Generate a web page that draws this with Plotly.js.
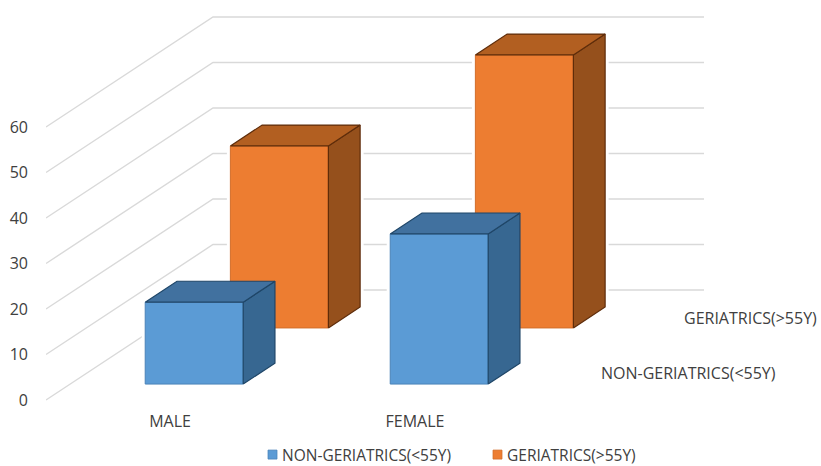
<!DOCTYPE html>
<html>
<head>
<meta charset="utf-8">
<script src="https://cdn.plot.ly/plotly-3.0.1.min.js"></script>
<style>html,body{margin:0;padding:0;background:#fff}</style>
</head>
<body>
<div id="chart" style="width:821px;height:466px"></div>
<script>
// Chart data
const categories = ['MALE', 'FEMALE'];
const seriesNames = ['NON-GERIATRICS(<55Y)', 'GERIATRICS(>55Y)'];
const nonGeriatrics = [18, 33];
const geriatrics = [40, 60];
const yTicks = [0, 10, 20, 30, 40, 50, 60];

// Drawing scale and oblique projection
const W = 821, H = 466;
const plotLeft = 46, plotBottom = 410;
const xZeroPx = 170, pxPerCat = 245;
const yZeroPx = 400, pxPerUnit = 4.55;
const depthX = 167 / pxPerCat, depthY = 110 / pxPerUnit;
const barWidth = 0.4, barDepth = 0.19;
const seriesFront = [0.145, 0.655];
const gridLeft = (plotLeft - xZeroPx) / pxPerCat;
const gridRight = (704 - xZeroPx) / pxPerCat;

const styles = [
  {front: '#5b9bd5', edge: '#4a83b8', side: '#376791', top: '#41719f', dark: '#1f4668'},
  {front: '#ed7d31', edge: '#d26e2a', side: '#95501c', top: '#b25f21', dark: '#5e2c0a'}
];
const allValues = [nonGeriatrics, geriatrics];

const project = (c, v, z) => [c + z * depthX, v + z * depthY];
const polygon = pts => {
  const xy = pts.map(p => project(p[0], p[1], p[2]));
  return {x: xy.map(p => p[0]).concat(xy[0][0]), y: xy.map(p => p[1]).concat(xy[0][1])};
};
const svgPath = pts => 'M' + pts.map(p => project(p[0], p[1], p[2]).join(',')).join('L') + 'Z';

const traces = [];
const shapes = [];

// Back wall and floor-side gridlines
yTicks.forEach(t => {
  const a = project(gridLeft, t, 0), b = project(gridLeft, t, 1), c = [gridRight, t + depthY];
  shapes.push({
    type: 'path', layer: 'below', xref: 'x', yref: 'y',
    path: 'M' + a.join(',') + 'L' + b.join(',') + 'L' + c.join(','),
    line: {color: '#d9d9d9', width: 1.4}, fillcolor: 'rgba(0,0,0,0)'
  });
});

// Series are added back to front so the nearer columns overlap the farther ones
[1, 0].forEach(s => {
  const z0 = seriesFront[s], z1 = z0 + barDepth, st = styles[s], vals = allValues[s];
  traces.push({
    type: 'bar', name: seriesNames[s], legendrank: s + 1,
    x: categories.map((_, i) => i + z0 * depthX),
    y: vals, base: vals.map(() => z0 * depthY), width: barWidth,
    marker: {color: st.front, line: {color: st.edge, width: 1}},
    hoverinfo: 'name+text', text: vals.map(String), textposition: 'none'
  });
  vals.forEach((v, i) => {
    const l = i - barWidth / 2, r = i + barWidth / 2;
    // White halo that interrupts the gridlines around each column
    shapes.push({
      type: 'path', layer: 'below', xref: 'x', yref: 'y',
      path: svgPath([[l, 0, z0], [r, 0, z0], [r, 0, z1], [r, v, z1], [l, v, z1], [l, v, z0]]),
      fillcolor: '#ffffff', line: {color: '#ffffff', width: 7}
    });
    const side = polygon([[r, 0, z0], [r, 0, z1], [r, v, z1], [r, v, z0]]);
    const top = polygon([[l, v, z0], [r, v, z0], [r, v, z1], [l, v, z1]]);
    [[side, st.side], [top, st.top]].forEach(([p, color]) => {
      traces.push({
        type: 'scatter', mode: 'lines', x: p.x, y: p.y, fill: 'toself',
        fillcolor: color, line: {color: st.dark, width: 1.2},
        showlegend: false, hoverinfo: 'skip'
      });
    });
  });
});

const textColor = '#404040';
const fontFamily = '"Open Sans", sans-serif';

// Depth-axis labels sit just past the right end of the floor
const annotations = seriesNames.map((name, s) => ({
  x: gridRight - depthX + (s === 0 ? 0.25 : 0.75) * depthX,
  y: (s === 0 ? 0.25 : 0.75) * depthY,
  xref: 'x', yref: 'y', text: name.replace('<', '&lt;'), showarrow: false,
  xanchor: 'left', yanchor: 'middle', xshift: 20,
  font: {family: fontFamily, size: 16, color: textColor}
}));

const layout = {
  width: W, height: H,
  margin: {l: plotLeft, r: 0, t: 0, b: H - plotBottom, pad: 0, autoexpand: false},
  paper_bgcolor: '#ffffff', plot_bgcolor: '#ffffff',
  barmode: 'overlay', shapes, annotations,
  xaxis: {
    type: 'linear',
    range: [(plotLeft - xZeroPx) / pxPerCat, (W - xZeroPx) / pxPerCat],
    tickmode: 'array', tickvals: categories.map((_, i) => i), ticktext: categories,
    showgrid: false, zeroline: false, showline: false, ticks: '',
    tickfont: {family: fontFamily, size: 16, color: textColor}, fixedrange: true
  },
  yaxis: {
    range: [(yZeroPx - plotBottom) / pxPerUnit, yZeroPx / pxPerUnit],
    tickmode: 'array', tickvals: yTicks,
    showgrid: false, zeroline: false, showline: false, ticks: '',
    ticklabelstandoff: 17,
    tickfont: {family: fontFamily, size: 16, color: textColor}, fixedrange: true
  },
  showlegend: true,
  legend: {
    orientation: 'h', x: (242 - plotLeft) / (W - plotLeft), xanchor: 'left',
    y: -45 / plotBottom, yanchor: 'middle',
    entrywidth: 180, entrywidthmode: 'pixels',
    font: {family: fontFamily, size: 15.5, color: textColor},
    bgcolor: 'rgba(0,0,0,0)', traceorder: 'normal'
  }
};

// Legend swatches are small squares placed close to their text
const tightenSwatches = () => {
  document.querySelectorAll('#chart .legend .legendpoints path').forEach(p => {
    p.setAttribute('transform', 'translate(30.5,0) scale(0.75)');
  });
};

Plotly.newPlot('chart', traces, layout, {displayModeBar: false, responsive: false}).then(gd => {
  tightenSwatches();
  gd.on('plotly_afterplot', tightenSwatches);
  requestAnimationFrame(tightenSwatches);
});
</script>
</body>
</html>
